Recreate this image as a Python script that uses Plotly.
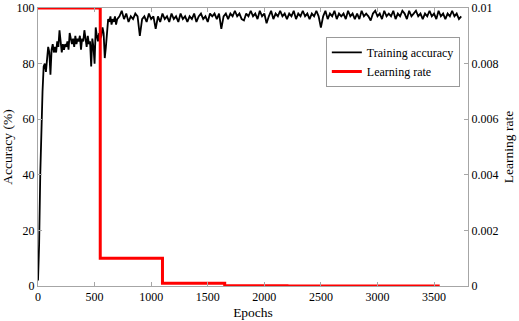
import plotly.graph_objects as go

# ---- data ----
early_epochs = list(range(0, 710, 10))
early_acc = [2, 15, 40, 62, 70, 79, 80, 77, 81, 86,
             84, 76, 85, 87, 84, 86, 84, 88, 86, 92,
             88, 84, 87, 85, 87, 86, 88, 85, 91, 88,
             87, 89, 86, 90, 87, 89, 88, 90, 85, 89,
             88, 92, 89, 86, 90, 87, 88, 79, 89, 86,
             80, 93, 90, 88, 91, 89, 90, 93, 91, 82,
             86, 92, 96, 95, 97, 94, 96, 95, 97, 94,
             96]
late_epochs = list(range(720, 3760, 20))
late_acc = [97, 99, 96, 98, 95, 97, 96, 98, 97, 90, 96, 97, 95, 98, 96,
            97, 92.5, 97, 95, 98, 96, 97, 95, 98, 96, 97, 95, 98, 96, 97,
            95, 97, 96, 98, 95, 97, 98, 96, 97, 95, 98, 97, 98, 96, 98,
            92.5, 97, 98, 96, 98, 97, 99, 97, 98, 96, 95.5, 98, 97, 99, 97,
            98, 96, 99, 97, 98, 94.5, 97, 99, 96, 98, 97, 99, 97, 98, 96,
            98, 97, 99, 96, 98, 97, 99, 97, 98, 96, 98, 97, 99, 97, 93,
            97, 99, 96, 98, 97, 99, 96, 98, 97, 98, 96, 99, 97, 98, 96,
            98, 96, 99, 97, 98, 97, 95.5, 98, 99, 97, 98, 96, 99, 97, 98,
            97, 99, 96, 98, 97, 99, 98, 96, 99, 97, 98, 99, 97, 98, 96,
            98, 97, 99, 97, 98, 96, 99, 97, 98, 96, 98, 97, 99, 97, 98, 96, 97]
epochs = early_epochs + late_epochs
accuracy = early_acc + late_acc

lr_epochs = [0, 550, 1100, 1650, 2200, 3550]
lr_values = [0.01, 0.001, 0.0001, 0.00001, 0.000001, 0.000001]

x_ticks = [0, 500, 1000, 1500, 2000, 2500, 3000, 3500]
y_ticks = [0, 20, 40, 60, 80, 100]
y2_ticks = [0, 0.002, 0.004, 0.006, 0.008, 0.01]
y2_ticktext = ["0", "0.002", "0.004", "0.006", "0.008", "0.01"]

FONT = "Liberation Serif, Times New Roman, serif"
GREY = "#a6a6a6"

fig = go.Figure()
fig.add_trace(go.Scatter(x=epochs, y=accuracy, mode="lines", name="Training accuracy",
                         line=dict(color="black", width=1.8)))
fig.add_trace(go.Scatter(x=lr_epochs, y=lr_values, mode="lines", name="Learning rate",
                         yaxis="y2", cliponaxis=False,
                         line=dict(color="red", width=3, shape="hv")))

axis_common = dict(showgrid=False, zeroline=False, showline=True, linecolor=GREY, linewidth=1,
                   ticks="inside", ticklen=4, tickcolor=GREY, ticklabeloverflow="allow",
                   tickfont=dict(family=FONT, size=12, color="black"))

fig.update_layout(
    width=519, height=321,
    margin=dict(l=38, r=51, t=8, b=35),
    paper_bgcolor="white", plot_bgcolor="white",
    font=dict(family=FONT, size=12, color="black"),
    xaxis=dict(range=[0, 3800], tickvals=x_ticks, mirror="ticks", automargin=False,
               title=dict(text="Epochs", font=dict(family=FONT, size=13.5), standoff=4),
               **axis_common),
    yaxis=dict(range=[0, 100], tickvals=y_ticks, automargin=False,
               title=dict(text="Accuracy (%)", font=dict(family=FONT, size=13.5), standoff=3),
               **axis_common),
    yaxis2=dict(range=[0, 0.01], tickvals=y2_ticks, ticktext=y2_ticktext, overlaying="y",
                side="right", automargin=False,
                title=dict(text="Learning rate", font=dict(family=FONT, size=13.5), standoff=6),
                **axis_common),
    legend=dict(x=0.981, y=0.896, xanchor="right", yanchor="top",
                bgcolor="white", bordercolor="#999999", borderwidth=1,
                font=dict(family=FONT, size=12), tracegroupgap=0,
                itemwidth=30),
    showlegend=True,
)

fig.write_html("out.html", config={"displayModeBar": False},
               post_script="document.body.style.margin='0px';")
